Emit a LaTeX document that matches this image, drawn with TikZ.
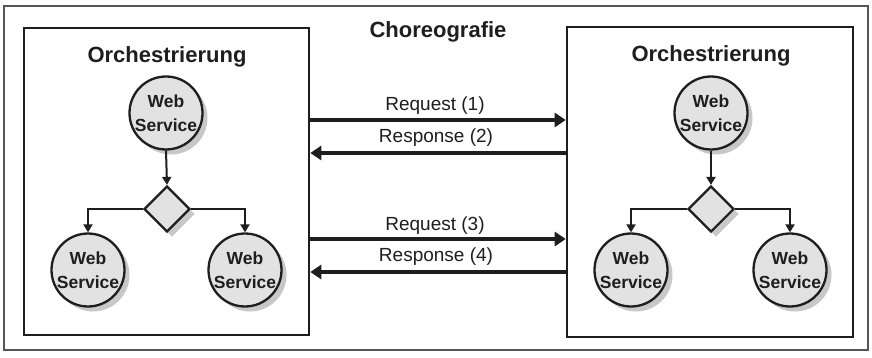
\documentclass[tikz,border=0pt]{standalone}
\usepackage{fontspec}
\setmainfont{Liberation Sans}
\usetikzlibrary{arrows.meta,shadows,shapes.geometric}
\definecolor{ink}{HTML}{1E1E1E}
\definecolor{wsfill}{HTML}{E2E2E2}
\definecolor{shade}{HTML}{C8C8C8}
\tikzset{
  frame/.style={draw=ink, line width=2.6pt, fill=white},
  title/.style={text=ink, font=\bfseries\fontsize{22}{26}\selectfont, inner sep=0pt},
  ws/.style={circle, draw=ink, line width=2.3pt, fill=wsfill, minimum size=73pt, inner sep=0pt,
    align=center, text=ink, font=\bfseries\fontsize{17.5}{24}\selectfont,
    drop shadow={shadow xshift=5pt, shadow yshift=-5pt, fill=shade, opacity=1}},
  gate/.style={diamond, draw=ink, line width=2.2pt, fill=wsfill, minimum size=46pt, inner sep=0pt,
    drop shadow={shadow xshift=5pt, shadow yshift=-5pt, fill=shade, opacity=1}},
  flow/.style={draw=ink, line width=2pt, -{Triangle[length=8pt,width=9pt]}},
  msg/.style={draw=ink, line width=3.3pt, -{Triangle[length=11pt,width=14pt]}},
  lbl/.style={text=ink, font=\fontsize{19}{22}\selectfont, inner sep=0pt}
}
\begin{document}
\begin{tikzpicture}[x=1pt,y=-1pt]
\useasboundingbox (0,0) rectangle (872,358);
\fill[white] (0,0) rectangle (872,358);
\node[draw=ink!75, line width=1.3pt, minimum width=864pt, minimum height=344pt, inner sep=0pt] (outer) at (436,178) {};
\node[title] (chor) at (438,32) {Choreografie};
% orchestration boxes
\node[frame, minimum width=285pt, minimum height=307pt, inner sep=0pt] (L) at (166.5,181.5) {};
\node[frame, minimum width=286pt, minimum height=310pt, inner sep=0pt] (R) at (710,182) {};
\node[title] (Lt) at (167,57) {Orchestrierung};
\node[title] (Rt) at (711,56) {Orchestrierung};
% left side nodes
\node[ws] (L1) at (166,113) {Web\\Service};
\node[gate] (Ld) at (167,209) {};
\node[ws] (L2) at (88,270) {Web\\Service};
\node[ws] (L3) at (245,270) {Web\\Service};
\draw[flow] (L1.south) -- (Ld.north);
\draw[flow] (Ld.west) -| (L2.north);
\draw[flow] (Ld.east) -| (L3.north);
% right side nodes
\node[ws] (R1) at (711,113) {Web\\Service};
\node[gate] (Rd) at (711,209) {};
\node[ws] (R2) at (631,270) {Web\\Service};
\node[ws] (R3) at (790,270) {Web\\Service};
\draw[flow] (R1.south) -- (Rd.north);
\draw[flow] (Rd.west) -| (R2.north);
\draw[flow] (Rd.east) -| (R3.north);
% messages
\coordinate (y1) at (0,120);
\coordinate (y2) at (0,153);
\coordinate (y3) at (0,239);
\coordinate (y4) at (0,272);
\draw[msg] (y1 -| L.east) -- (y1 -| R.west);
\draw[msg] (y2 -| R.west) -- (y2 -| L.east);
\draw[msg] (y3 -| L.east) -- (y3 -| R.west);
\draw[msg] (y4 -| R.west) -- (y4 -| L.east);
\node[lbl] (m1) at (435,106) {Request (1)};
\node[lbl] (m2) at (436,138) {Response (2)};
\node[lbl] (m3) at (435,226) {Request (3)};
\node[lbl] (m4) at (436,257) {Response (4)};
\end{tikzpicture}
\end{document}
